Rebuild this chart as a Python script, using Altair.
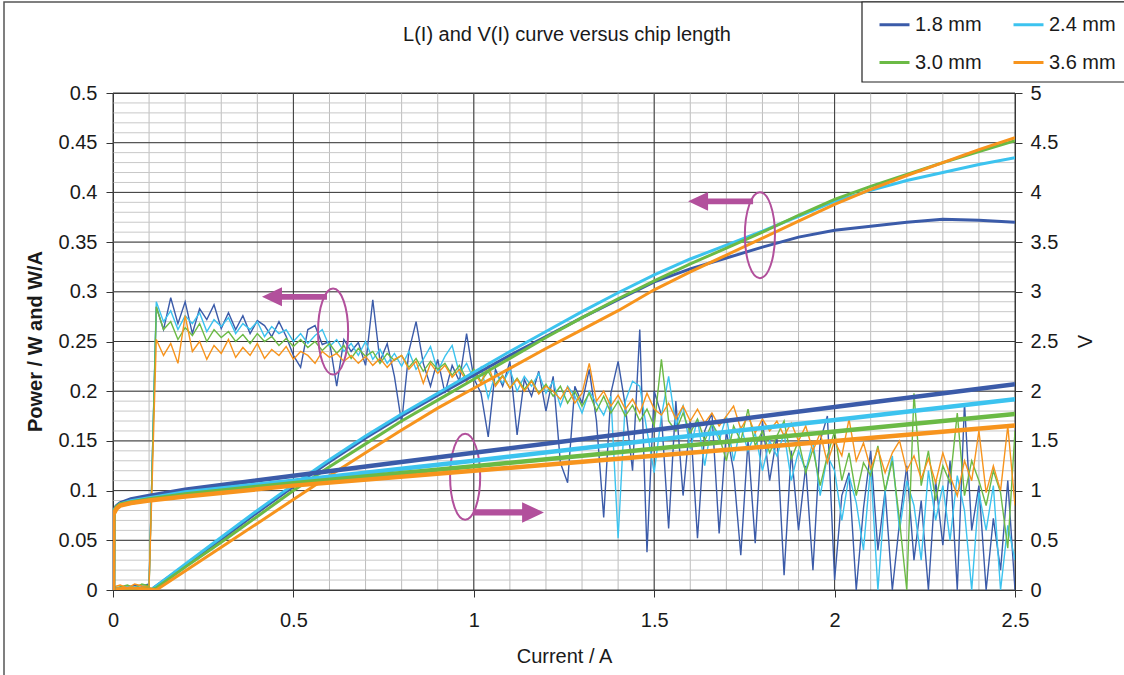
import altair as alt
import numpy as np
import pandas as pd

FONT = "Liberation Sans"
TEXT = "#1a1a1a"
PINK = "#b2509c"
TITLE = "L(I) and V(I) curve versus chip length"

LENGTHS = ["1.8 mm", "2.4 mm", "3.0 mm", "3.6 mm"]
COLORS = ["#3b5ba9", "#3cc3ef", "#6bba45", "#f7941d"]

# ---------- L(I): optical power in W (left axis)
L_CURRENT = [0.0, 0.05, 0.10, 0.105, 0.12, 0.2, 0.3, 0.4, 0.5, 0.6, 0.7, 0.8, 0.9, 1.0,
             1.1, 1.2, 1.3, 1.4, 1.5, 1.6, 1.7, 1.8, 1.9, 2.0, 2.1, 2.2, 2.3, 2.4, 2.5]
L_18 = [0.001, 0.001, 0.001, 0.0, 0.004, 0.025, 0.051, 0.078, 0.104, 0.129, 0.153, 0.175, 0.196, 0.216,
        0.236, 0.255, 0.274, 0.292, 0.310, 0.323, 0.334, 0.345, 0.355, 0.362, 0.366, 0.370, 0.373, 0.372, 0.370]
L_24 = [0.001, 0.002, 0.001, 0.0, 0.004, 0.026, 0.053, 0.080, 0.106, 0.131, 0.155, 0.177, 0.198, 0.219,
        0.240, 0.260, 0.280, 0.299, 0.317, 0.333, 0.347, 0.361, 0.376, 0.391, 0.402, 0.412, 0.420, 0.428, 0.435]
L_30 = [0.001, 0.001, 0.002, 0.0, 0.002, 0.023, 0.048, 0.074, 0.100, 0.124, 0.147, 0.170, 0.191, 0.212,
        0.233, 0.254, 0.274, 0.293, 0.311, 0.328, 0.344, 0.360, 0.377, 0.393, 0.406, 0.418, 0.430, 0.441, 0.452]
L_36 = [0.001, 0.002, 0.001, 0.001, 0.0, 0.019, 0.043, 0.067, 0.091, 0.115, 0.138, 0.161, 0.183, 0.203,
        0.223, 0.243, 0.262, 0.281, 0.302, 0.320, 0.337, 0.354, 0.371, 0.388, 0.403, 0.417, 0.430, 0.443, 0.455]

# ---------- V(I): voltage in V (right axis)
V_CURRENT = [0.0, 0.001, 0.01, 0.02, 0.05, 0.1, 0.2, 0.5, 1.0, 1.5, 2.0, 2.5]
V_18 = [0.0, 0.78, 0.84, 0.87, 0.91, 0.945, 1.01, 1.15, 1.38, 1.61, 1.84, 2.07]
V_24 = [0.0, 0.78, 0.83, 0.86, 0.89, 0.92, 0.98, 1.10, 1.30, 1.51, 1.71, 1.92]
V_30 = [0.0, 0.77, 0.83, 0.86, 0.88, 0.91, 0.96, 1.075, 1.245, 1.42, 1.595, 1.77]
V_36 = [0.0, 0.76, 0.82, 0.85, 0.875, 0.90, 0.94, 1.05, 1.20, 1.35, 1.50, 1.655]

# ---------- slope efficiency dP/dI in W/A (left axis), read every 0.02 A from 0 to 2.5 A
S_CURRENT = np.round(np.arange(126) * 0.02, 2)
S_18 = [0.000, 0.003, 0.002, 0.005, 0.004, 0.006,
        0.285, 0.262, 0.294, 0.268, 0.290, 0.258, 0.283, 0.272, 0.287, 0.263,
        0.279, 0.262, 0.276, 0.258, 0.271, 0.266, 0.255, 0.270, 0.255, 0.236,
        0.224, 0.262, 0.266, 0.247, 0.250,
        0.205, 0.252, 0.240, 0.249, 0.226, 0.292, 0.230, 0.248, 0.215, 0.168,
        0.240, 0.270, 0.228, 0.205, 0.232, 0.198, 0.226, 0.210, 0.258, 0.213,
        0.198, 0.154, 0.222, 0.205, 0.230, 0.156, 0.212, 0.195, 0.220, 0.180,
        0.215, 0.128, 0.108, 0.205, 0.188, 0.222, 0.170, 0.073, 0.198, 0.230,
        0.185, 0.120, 0.262, 0.038, 0.200, 0.176, 0.062, 0.190, 0.095, 0.172,
        0.052, 0.160, 0.178, 0.057, 0.160, 0.120, 0.035, 0.150, 0.047, 0.170,
        0.110, 0.155, 0.015, 0.140,
        0.060, 0.125, 0.020, 0.150, 0.175, 0.010, 0.095, 0.118, 0.000, 0.082,
        0.140, 0.040, 0.100, 0.000, 0.068, 0.125, 0.030, 0.090, 0.000, 0.110,
        0.045, 0.130, 0.000, 0.188, 0.060, 0.105, 0.000, 0.072, 0.020, 0.110,
        0.000]
S_24 = [0.001, 0.002, 0.004, 0.003, 0.005, 0.004,
        0.290, 0.270, 0.281, 0.262, 0.276, 0.268, 0.279, 0.260, 0.272, 0.265,
        0.274, 0.258, 0.268, 0.262, 0.270, 0.255, 0.265, 0.258, 0.262, 0.250,
        0.258, 0.248, 0.256, 0.262, 0.245,
        0.252, 0.240, 0.248, 0.236, 0.250, 0.232, 0.242, 0.228, 0.238, 0.225,
        0.240, 0.222, 0.232, 0.245, 0.220, 0.235, 0.246, 0.218, 0.228, 0.212,
        0.224, 0.193, 0.218, 0.208, 0.222, 0.200, 0.215, 0.205, 0.218, 0.198,
        0.210, 0.185, 0.205, 0.195, 0.178, 0.200, 0.188, 0.176, 0.195, 0.052,
        0.190, 0.210, 0.205, 0.160, 0.118, 0.175, 0.215, 0.165, 0.185, 0.142,
        0.172, 0.125, 0.168, 0.150, 0.175, 0.130, 0.165, 0.140, 0.158, 0.120,
        0.150, 0.135, 0.158, 0.110,
        0.140, 0.120, 0.150, 0.095, 0.135, 0.120, 0.070, 0.115, 0.088, 0.040,
        0.125, 0.000, 0.098, 0.135, 0.060, 0.110, 0.085, 0.030, 0.120, 0.070,
        0.105, 0.050, 0.115, 0.080, 0.000, 0.098, 0.060, 0.105, 0.000, 0.065,
        0.030]
S_30 = [0.002, 0.003, 0.005, 0.002, 0.006, 0.004,
        0.285, 0.262, 0.270, 0.252, 0.264, 0.256, 0.268, 0.250, 0.262, 0.254,
        0.260, 0.250, 0.257, 0.248, 0.258, 0.250, 0.255, 0.246, 0.253, 0.245,
        0.252, 0.244, 0.250, 0.241, 0.248,
        0.238, 0.246, 0.233, 0.243, 0.235, 0.240, 0.228, 0.238, 0.231, 0.236,
        0.224, 0.233, 0.220, 0.230, 0.222, 0.228, 0.216, 0.226, 0.212, 0.222,
        0.210, 0.220, 0.207, 0.216, 0.203, 0.213, 0.202, 0.211, 0.198, 0.207,
        0.195, 0.205, 0.188, 0.200, 0.185, 0.198, 0.180, 0.195, 0.178, 0.190,
        0.175, 0.186, 0.170, 0.182, 0.165, 0.232, 0.170, 0.160, 0.178, 0.158,
        0.172, 0.150, 0.168, 0.155, 0.130, 0.165, 0.150, 0.182, 0.145, 0.160,
        0.138, 0.155, 0.170, 0.132,
        0.150, 0.118, 0.142, 0.105, 0.135, 0.160, 0.110, 0.138, 0.095, 0.128,
        0.115, 0.145, 0.100, 0.130, 0.070, 0.000, 0.198, 0.105, 0.140, 0.090,
        0.125, 0.108, 0.178, 0.095, 0.130, 0.110, 0.085, 0.120, 0.098, 0.042,
        0.160]
S_36 = [0.003, 0.005, 0.002, 0.006, 0.004, 0.003,
        0.252, 0.236, 0.248, 0.228, 0.276, 0.240, 0.250, 0.232, 0.246, 0.238,
        0.252, 0.234, 0.244, 0.236, 0.248, 0.233, 0.242, 0.236, 0.245, 0.232,
        0.240, 0.236, 0.228, 0.240, 0.234,
        0.238, 0.230, 0.236, 0.228, 0.235, 0.226, 0.233, 0.224, 0.232, 0.236,
        0.222, 0.230, 0.208, 0.228, 0.218, 0.226, 0.214, 0.222, 0.210, 0.220,
        0.208, 0.226, 0.205, 0.215, 0.203, 0.212, 0.200, 0.210, 0.197, 0.205,
        0.200, 0.192, 0.204, 0.188, 0.198, 0.228, 0.190, 0.200, 0.185, 0.196,
        0.182, 0.192, 0.178, 0.198, 0.182, 0.176, 0.188, 0.172, 0.185, 0.170,
        0.182, 0.168, 0.178, 0.165, 0.175, 0.185, 0.162, 0.175, 0.158, 0.172,
        0.160, 0.170, 0.155, 0.168,
        0.150, 0.165, 0.140, 0.158, 0.128, 0.150, 0.135, 0.172, 0.130, 0.148,
        0.122, 0.142, 0.118, 0.138, 0.150, 0.120, 0.135, 0.112, 0.132, 0.108,
        0.138, 0.115, 0.095, 0.130, 0.110, 0.160, 0.098, 0.125, 0.100, 0.165,
        0.085]

# ---------- ticks and grid
X_TICKS = [0, 0.5, 1, 1.5, 2, 2.5]
Y_TICKS = [0, 0.05, 0.1, 0.15, 0.2, 0.25, 0.3, 0.35, 0.4, 0.45, 0.5]
V_TICKS = [0, 0.5, 1, 1.5, 2, 2.5, 3, 3.5, 4, 4.5, 5]
X_MINOR = [round(0.1 * i, 1) for i in range(1, 25)]
Y_MINOR = [round(0.01 * i, 2) for i in range(1, 50)]

# ---------- annotation ellipses and arrows (data coordinates of their centres)
ELLIPSE_I = [0.61, 1.793, 0.976]
ELLIPSE_P = [0.26, 0.357, 0.114]
ARROW_LEFT_I = [0.503, 1.684]
ARROW_LEFT_P = [0.295, 0.391]
ARROW_RIGHT_I = [1.096]
ARROW_RIGHT_P = [0.078]

ELLIPSE_PATH = ("M0,-1C0.193,-1 0.35,-0.552 0.35,0C0.35,0.552 0.193,1 0,1"
                "C-0.193,1 -0.35,0.552 -0.35,0C-0.35,-0.552 -0.193,-1 0,-1Z")
ARROW_LEFT_PATH = "M-1,0L-0.385,-0.29L-0.385,-0.088L1,-0.088L1,0.088L-0.385,0.088L-0.385,0.29Z"
ARROW_RIGHT_PATH = "M1,0L0.385,-0.29L0.385,-0.088L-1,-0.088L-1,0.088L0.385,0.088L0.385,0.29Z"


def long_df(current, series, field):
    rows = []
    for name, vals in zip(LENGTHS, series):
        for c, v in zip(current, vals):
            rows.append({"I": float(c), field: v, "length": name})
    return pd.DataFrame(rows)


l_df = long_df(L_CURRENT, [L_18, L_24, L_30, L_36], "P")
v_df = long_df(V_CURRENT, [V_18, V_24, V_30, V_36], "V")
s_df = long_df(S_CURRENT, [S_18, S_24, S_30, S_36], "P")

x_scale = alt.Scale(domain=[0, 2.5], nice=False, zero=False)
y_scale = alt.Scale(domain=[0, 0.5], nice=False)
v_scale = alt.Scale(domain=[0, 5], nice=False)
color_scale = alt.Scale(domain=LENGTHS, range=COLORS)

common = dict(domain=False, grid=False, tickColor="#333", tickSize=7, labelFont=FONT,
              labelFontSize=20, labelColor=TEXT, titleFont=FONT, titleFontSize=20,
              titleColor=TEXT, labelFlush=False, labelOverlap=False,
              labelExpr="format(datum.value, '~g')")
x_axis = alt.Axis(values=X_TICKS, title="Current / A", labelPadding=13,
                  titleFontWeight="normal", titlePadding=16, **common)
y_axis = alt.Axis(values=Y_TICKS, title="Power / W and W/A", labelPadding=9,
                  titleFontWeight="bold", titleX=-78, titleY=248, titleAngle=270,
                  titleAlign="center", titleBaseline="middle", **common)
v_axis = alt.Axis(values=V_TICKS, title="V", orient="right", labelPadding=8,
                  titleFontWeight="normal", titleX=70, titleY=248, titleAngle=270,
                  titleAlign="center", titleBaseline="middle", **common)

LEGEND = alt.Legend(orient="none", legendX=765, legendY=-85, columns=2, direction="horizontal",
                    symbolType="stroke", symbolStrokeWidth=3, symbolSize=900,
                    labelFont=FONT, labelFontSize=20, labelColor=TEXT,
                    labelOffset=4, padding=0, rowPadding=11, columnPadding=25)
COLOR = alt.Color("length:N", scale=color_scale, title=None, legend=LEGEND)

X = lambda f: alt.X(f, type="quantitative", scale=x_scale, axis=x_axis)
Y = lambda f: alt.Y(f, type="quantitative", scale=y_scale, axis=y_axis)

grid_minor_x = alt.Chart(pd.DataFrame({"x": X_MINOR})).mark_rule(
    color="#bdbdbd", strokeWidth=1).encode(x=X("x"))
grid_minor_y = alt.Chart(pd.DataFrame({"y": Y_MINOR})).mark_rule(
    color="#c8c8c8", strokeWidth=1).encode(y=Y("y"))
grid_major_x = alt.Chart(pd.DataFrame({"x": X_TICKS})).mark_rule(
    color="#3a3a3a", strokeWidth=1).encode(x=X("x"))
grid_major_y = alt.Chart(pd.DataFrame({"y": Y_TICKS})).mark_rule(
    color="#3a3a3a", strokeWidth=1).encode(y=Y("y"))

slope = alt.Chart(s_df).mark_line(strokeWidth=1.4, clip=True).encode(
    x=X("I"), y=Y("P"), color=COLOR)

power = alt.Chart(l_df).mark_line(strokeWidth=3, clip=True).encode(
    x=X("I"), y=Y("P"), color=COLOR)

ellipses = alt.Chart(pd.DataFrame({"I": ELLIPSE_I, "P": ELLIPSE_P})).mark_point(
    shape=ELLIPSE_PATH, size=7396, filled=False, stroke=PINK, strokeWidth=2, opacity=1
).encode(x=X("I"), y=Y("P"))
arrows_left = alt.Chart(pd.DataFrame({"I": ARROW_LEFT_I, "P": ARROW_LEFT_P})).mark_point(
    shape=ARROW_LEFT_PATH, size=4225, filled=True, fill=PINK, strokeWidth=0, opacity=1
).encode(x=X("I"), y=Y("P"))
arrows_right = alt.Chart(pd.DataFrame({"I": ARROW_RIGHT_I, "P": ARROW_RIGHT_P})).mark_point(
    shape=ARROW_RIGHT_PATH, size=5041, filled=True, fill=PINK, strokeWidth=0, opacity=1
).encode(x=X("I"), y=Y("P"))

title = alt.Chart(pd.DataFrame({"t": [TITLE]})).mark_text(
    font=FONT, fontSize=20, color=TEXT, align="center", baseline="middle"
).encode(text="t:N", x=alt.value(454), y=alt.value(-58))

frame = alt.Chart(pd.DataFrame({"a": [0]})).mark_rect(
    fillOpacity=0, stroke="#555", strokeWidth=1.5
).encode(x=alt.value(-109), x2=alt.value(1030), y=alt.value(-91), y2=alt.value(600))

legend_box = alt.Chart(pd.DataFrame({"a": [0]})).mark_rect(
    fill="white", stroke="#222", strokeWidth=1.2
).encode(x=alt.value(749), x2=alt.value(1030), y=alt.value(-91), y2=alt.value(-11))

left = alt.layer(grid_minor_x, grid_minor_y, grid_major_x, grid_major_y,
                 slope, power, ellipses, arrows_left, arrows_right, title, frame, legend_box)

volt = alt.Chart(v_df).mark_line(strokeWidth=4.5, clip=True).encode(
    x=X("I"),
    y=alt.Y("V", type="quantitative", scale=v_scale, axis=v_axis),
    color=COLOR)

chart = alt.layer(left, volt).resolve_scale(y="independent").properties(
    width=902, height=497, autosize="none",
    padding={"left": 113, "top": 93, "right": 109, "bottom": 85},
    background="white",
).configure_view(stroke="#333", strokeWidth=1)

chart.save("out.html", embed_options={"renderer": "svg", "actions": False})
